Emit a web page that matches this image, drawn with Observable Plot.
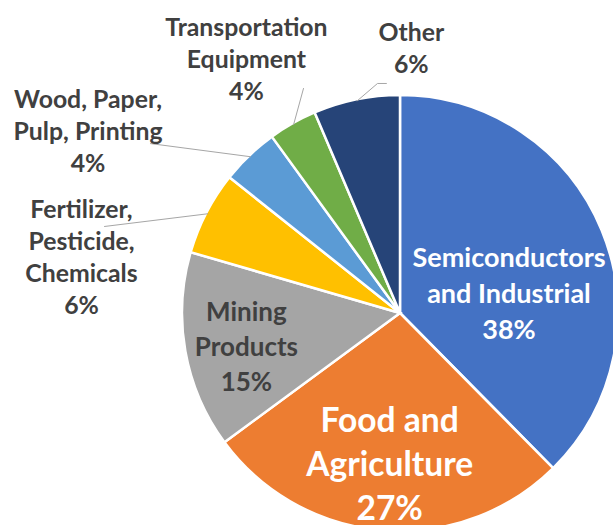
<!DOCTYPE html>
<html><head><meta charset="utf-8">
<script src="https://cdn.jsdelivr.net/npm/d3@7"></script>
<script src="https://cdn.jsdelivr.net/npm/@observablehq/plot@0.6"></script>
<style>body{margin:0;background:#fff} svg{display:block}</style>
</head><body><div id="chart"></div>
<script>
// ---- data ----
const categories = ["Semiconductors and Industrial", "Food and Agriculture", "Mining Products",
  "Fertilizer, Pesticide, Chemicals", "Wood, Paper, Pulp, Printing", "Transportation Equipment", "Other"];
const shares = [37.6, 27.3, 14.6, 6.2, 4.3, 3.6, 6.4];
const shareLabels = ["38%", "27%", "15%", "6%", "4%", "4%", "6%"];
const labelLines = ["Semiconductors\nand Industrial", "Food and\nAgriculture", "Mining\nProducts",
  "Fertilizer,\nPesticide,\nChemicals", "Wood, Paper,\nPulp, Printing", "Transportation\nEquipment", "Other"];
const colors = ["#4472C4", "#ED7D31", "#A5A5A5", "#FFC000", "#5B9BD5", "#70AD47", "#264478"];

// ---- layout (radius units, y down) ----
const labelAnchor = [[0.50, -0.10], [-0.05, 0.685], [-0.71, 0.145], [-1.47, -0.265], [-1.44, -0.845], [-0.71, -1.18], [0.05, -1.23]];
const leaderStart = {3: [[-1.364, -0.401]], 4: [[-1.152, -0.783]], 5: [[-0.447, -1.037]], 6: [[-0.065, -1.06], [-0.106, -1.06]]};

const arcs = d3.pie().sort(null).value(d => d)(shares);
const rows = categories.map((c, i) => ({
  i, category: c, share: shares[i],
  text: labelLines[i] + "\n" + shareLabels[i],
  mid: (arcs[i].startAngle + arcs[i].endAngle) / 2,
  lx: labelAnchor[i][0], ly: labelAnchor[i][1]
}));

const leaders = [];
for (const k of Object.keys(leaderStart)) {
  const r = rows[+k];
  for (const p of leaderStart[k]) leaders.push({k: +k, x: p[0], y: p[1]});
  leaders.push({k: +k, x: Math.sin(r.mid), y: -Math.cos(r.mid)});
}

function slices(index, scales) {
  const cx = scales.x(0), cy = scales.y(0), r = scales.x(1) - scales.x(0);
  const arc = d3.arc().innerRadius(0).outerRadius(r + 1);
  const g = d3.create("svg:g").attr("transform", `translate(${cx},${cy})`);
  g.selectAll("path").data(arcs).join("path")
    .attr("d", arc)
    .attr("fill", (d, i) => scales.color ? scales.color(categories[i]) : colors[i])
    .attr("stroke", "white").attr("stroke-width", 2.5).attr("stroke-linejoin", "miter");
  return g.node();
}

const R = 217;
const font = "Lato, 'Open Sans', sans-serif";
const txt = (filter, size, lh, fill) => Plot.text(rows.filter(filter), {
  x: "lx", y: "ly", text: "text", fontSize: size, lineHeight: lh, fill,
  fontWeight: "bold", fontFamily: font, textAnchor: "middle", lineAnchor: "middle"
});

const chart = Plot.plot({
  width: 613, height: 525, margin: 0,
  x: {domain: [-400 / R, 213 / R], axis: null},
  y: {domain: [-313 / R, 212 / R], range: [0, 525], axis: null},
  color: {domain: categories, range: colors},
  marks: [
    Plot.dot(rows, {x: "lx", y: "ly", r: 0, fill: "category"}),
    slices,
    Plot.line(leaders, {x: "x", y: "y", z: "k", stroke: "#A6A6A6", strokeWidth: 1}),
    txt(d => d.i === 0, 27, 1.33, "white"),
    txt(d => d.i === 1, 33.6, 1.31, "white"),
    txt(d => d.i === 2, 26, 1.35, "#404040"),
    txt(d => d.i >= 3, 24.8, 1.29, "#404040")
  ]
});
document.getElementById("chart").append(chart);
</script>
</body></html>
